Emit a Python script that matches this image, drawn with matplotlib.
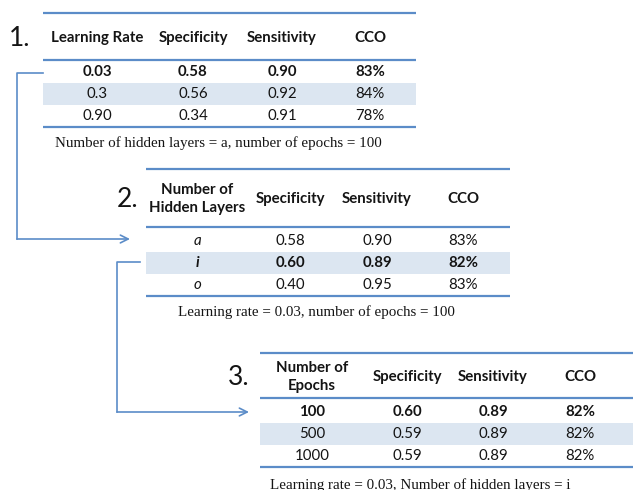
import matplotlib.pyplot as plt
from matplotlib.patches import Rectangle

# table contents
t1_header = ["Learning Rate", "Specificity", "Sensitivity", "CCO"]
t1_first = ["0.03", "0.3", "0.90"]
t1_spec = ["0.58", "0.56", "0.34"]
t1_sens = ["0.90", "0.92", "0.91"]
t1_cco = ["83%", "84%", "78%"]
t1_caption = "Number of hidden layers = a, number of epochs = 100"

t2_header = ["Number of\nHidden Layers", "Specificity", "Sensitivity", "CCO"]
t2_first = ["a", "i", "o"]
t2_spec = ["0.58", "0.60", "0.40"]
t2_sens = ["0.90", "0.89", "0.95"]
t2_cco = ["83%", "82%", "83%"]
t2_caption = "Learning rate = 0.03, number of epochs = 100"

t3_header = ["Number of\nEpochs", "Specificity", "Sensitivity", "CCO"]
t3_first = ["100", "500", "1000"]
t3_spec = ["0.60", "0.59", "0.59"]
t3_sens = ["0.89", "0.89", "0.89"]
t3_cco = ["82%", "82%", "82%"]
t3_caption = "Learning rate = 0.03, Number of hidden layers = i"

LINE = "#5b8cc8"
SHADE = "#dce6f1"
TEXT = "#141414"
SANS = "Lato"
SERIF = "Liberation Serif"


def draw_table(ax, label, header, cols, caption, x0, x1, y_top, y_head, y_rule,
               rows_y, y_bottom, col_x, label_x, cap_x, cap_y, bold_row,
               italic_first=False):
    row_h = rows_y[1] - rows_y[0]
    ax.add_patch(Rectangle((x0, rows_y[1] - row_h / 2), x1 - x0, row_h,
                           color=SHADE, lw=0, zorder=0))
    for y in (y_top, y_rule, y_bottom):
        ax.plot([x0, x1], [y, y], color=LINE, lw=1.6, solid_capstyle="butt")
    ax.text(label_x, y_head, label, fontsize=19, family=SANS, color=TEXT,
            ha="left", va="center")
    for cx, h in zip(col_x, header):
        ax.text(cx, y_head, h, fontsize=10.8, family=SANS, weight="bold",
                color=TEXT, ha="center", va="center", linespacing=1.3)
    for j, col in enumerate(cols):
        for i, val in enumerate(col):
            style = "italic" if (italic_first and j == 0) else "normal"
            weight = "bold" if i == bold_row else "normal"
            ax.text(col_x[j], rows_y[i], val, fontsize=10.8, family=SANS,
                    weight=weight, style=style, color=TEXT,
                    ha="center", va="center")
    ax.text(cap_x, cap_y, caption, fontsize=10.8, family=SERIF, color=TEXT,
            ha="left", va="center")


def connector(ax, x_start, x_stub, y_start, y_end, x_arrow):
    ax.plot([x_stub, x_start, x_start], [y_start, y_start, y_end],
            color=LINE, lw=1.2)
    ax.annotate("", xy=(x_arrow, y_end), xytext=(x_start, y_end),
                arrowprops=dict(arrowstyle="->", color=LINE, lw=1.2,
                                shrinkA=0, shrinkB=0, mutation_scale=14))


fig = plt.figure(figsize=(6.33, 4.9), dpi=100)
ax = fig.add_axes([0, 0, 1, 1])
ax.set_xlim(0, 633)
ax.set_ylim(490, 0)
ax.axis("off")

draw_table(ax, "1.", t1_header, [t1_first, t1_spec, t1_sens, t1_cco],
           t1_caption, 43, 416, 13, 38, 60, [72, 94, 116], 127,
           [97, 193, 282, 370], 9, 55, 143, bold_row=0)
draw_table(ax, "2.", t2_header, [t2_first, t2_spec, t2_sens, t2_cco],
           t2_caption, 146, 510, 169, 199, 227, [241, 263, 285], 296,
           [197, 290, 377, 463], 117, 178, 312, bold_row=1, italic_first=True)
draw_table(ax, "3.", t3_header, [t3_first, t3_spec, t3_sens, t3_cco],
           t3_caption, 260, 633, 353, 377, 398, [412, 434, 456], 467,
           [312, 407, 493, 580], 228, 270, 485, bold_row=0)

connector(ax, 17, 43, 73, 239, 130)
connector(ax, 117, 140, 262, 412, 249)

fig.savefig("out.png", dpi=100)
